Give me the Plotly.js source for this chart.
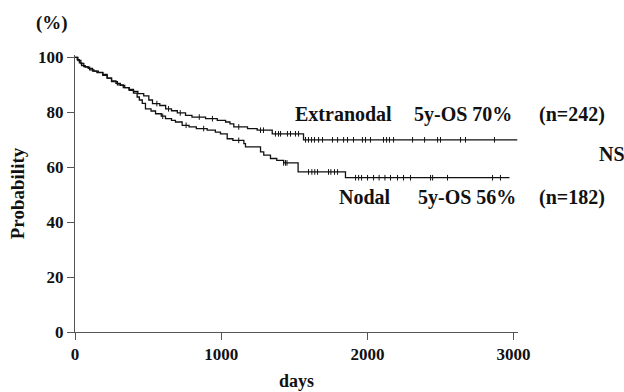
<!DOCTYPE html>
<html><head><meta charset="utf-8">
<script src="https://cdn.plot.ly/plotly-3.0.1.min.js"></script>
<style>html,body{margin:0;padding:0;background:#fff}#c{width:624px;height:392px}</style>
</head><body><div id="c"></div>
<script>
// Extranodal (n=242) Kaplan-Meier steps
const extraT = [0,15,30,45,70,100,130,160,190,220,250,280,310,340,370,400,430,470,505,530,580,620,660,700,756,800,893,973,1030,1060,1086,1180,1246,1349,1563,3025];
const extraS = [100,99.2,98,97,96.5,95.5,95,94.6,93.5,92.5,91.5,90.6,89.8,89,88.4,87.6,86.8,86,84.5,83.2,82.5,81.3,80.6,79.8,78.9,78.3,77.7,77.1,76.5,75.8,74.7,74.1,73.5,72.2,70.0,70.0];
const extraCens = [560,640,720,850,940,1120,1269,1289,1371,1392,1406,1453,1474,1508,1529,1577,1597,1618,1638,1666,1693,1761,1796,1837,1864,1905,1966,1987,2021,2110,2131,2151,2179,2309,2391,2480,2500,2637,2671,2869];
// Nodal (n=182) Kaplan-Meier steps
const nodalT = [0,20,40,60,90,120,150,190,220,250,290,330,370,400,425,440,460,482,520,551,590,619,660,687,733,780,830,904,960,995,1041,1080,1155,1166,1269,1291,1337,1380,1427,1526,1850,2972];
const nodalS = [100,98.9,97.8,96.7,96,95,94.5,93.8,92.5,91.2,90,89,88,87,85.6,84.5,83.3,81.3,80.5,79.5,78.6,77.7,77.1,76.5,75.3,74.7,74.1,73.5,72.8,72.2,70.4,69.8,68.6,67.4,65.6,64.4,63.2,62.5,61.6,58.3,56.2,56.2];
const nodalCens = [600,760,880,1120,1427,1440,1450,1597,1620,1640,1659,1734,1750,1775,1796,1919,1940,1960,2001,2042,2080,2120,2158,2206,2247,2295,2432,2446,2548,2856,2910];
const xTicks = [0,1000,2000,3000];
const yTicks = [0,20,40,60,80,100];

function survAt(T,S,t){let v=S[0];for(let i=0;i<T.length;i++){if(T[i]<=t)v=S[i];}return v;}
const fam = '"Liberation Serif","Times New Roman",serif';
const f = (size)=>({family:fam,size:size,color:'#111',weight:'bold'});
const traces = [
  {x:extraT,y:extraS,mode:'lines',line:{shape:'hv',color:'#111',width:1.3},hoverinfo:'skip'},
  {x:nodalT,y:nodalS,mode:'lines',line:{shape:'hv',color:'#111',width:1.3},hoverinfo:'skip'},
  {x:extraCens,y:extraCens.map(t=>survAt(extraT,extraS,t)),mode:'markers',marker:{symbol:'line-ns',size:4,line:{width:1,color:'#111'}},hoverinfo:'skip'},
  {x:nodalCens,y:nodalCens.map(t=>survAt(nodalT,nodalS,t)),mode:'markers',marker:{symbol:'line-ns',size:4,line:{width:1,color:'#111'}},hoverinfo:'skip'}
];
const W=624,H=392,L=74.5,T=55,R=106,B=60;
const px=(p)=>(p-L)/(W-L-R), py=(p)=>(H-B-p)/(H-T-B);
const ann = (x,y,text,size)=>({xref:'paper',yref:'paper',x:px(x),y:py(y),xanchor:'left',yanchor:'middle',text:'<b>'+text+'</b>',showarrow:false,font:f(size||20)});
const layout = {
  width:W,height:H,margin:{l:L,r:R,t:T,b:B,pad:0},paper_bgcolor:'#fff',plot_bgcolor:'#fff',showlegend:false,
  xaxis:{range:[0,3030],tickvals:xTicks,ticktext:xTicks.map(String),ticks:'outside',ticklen:7,tickcolor:'#555',showline:true,linecolor:'#555',linewidth:1,showgrid:false,zeroline:false,
    tickfont:f(17),title:{text:'days',font:f(18),standoff:10}},
  yaxis:{range:[0,100.9],tickvals:yTicks,ticktext:yTicks.map(String),ticks:'outside',ticklen:7,tickcolor:'#555',showline:true,linecolor:'#555',linewidth:1,showgrid:false,zeroline:false,
    tickfont:f(17),title:{text:'Probability',font:f(19),standoff:8}},
  annotations:[
    ann(33,23,'(%)',19),
    ann(293,114,'Extranodal'),
    ann(412,114,'5y-OS 70%'),
    ann(537,114,'(n=242)'),
    ann(597,154,'NS'),
    ann(337,197,'Nodal'),
    ann(416,197,'5y-OS 56%'),
    ann(537,197,'(n=182)')
  ]
};
Plotly.newPlot('c',traces,layout,{staticPlot:true});
</script></body></html>
